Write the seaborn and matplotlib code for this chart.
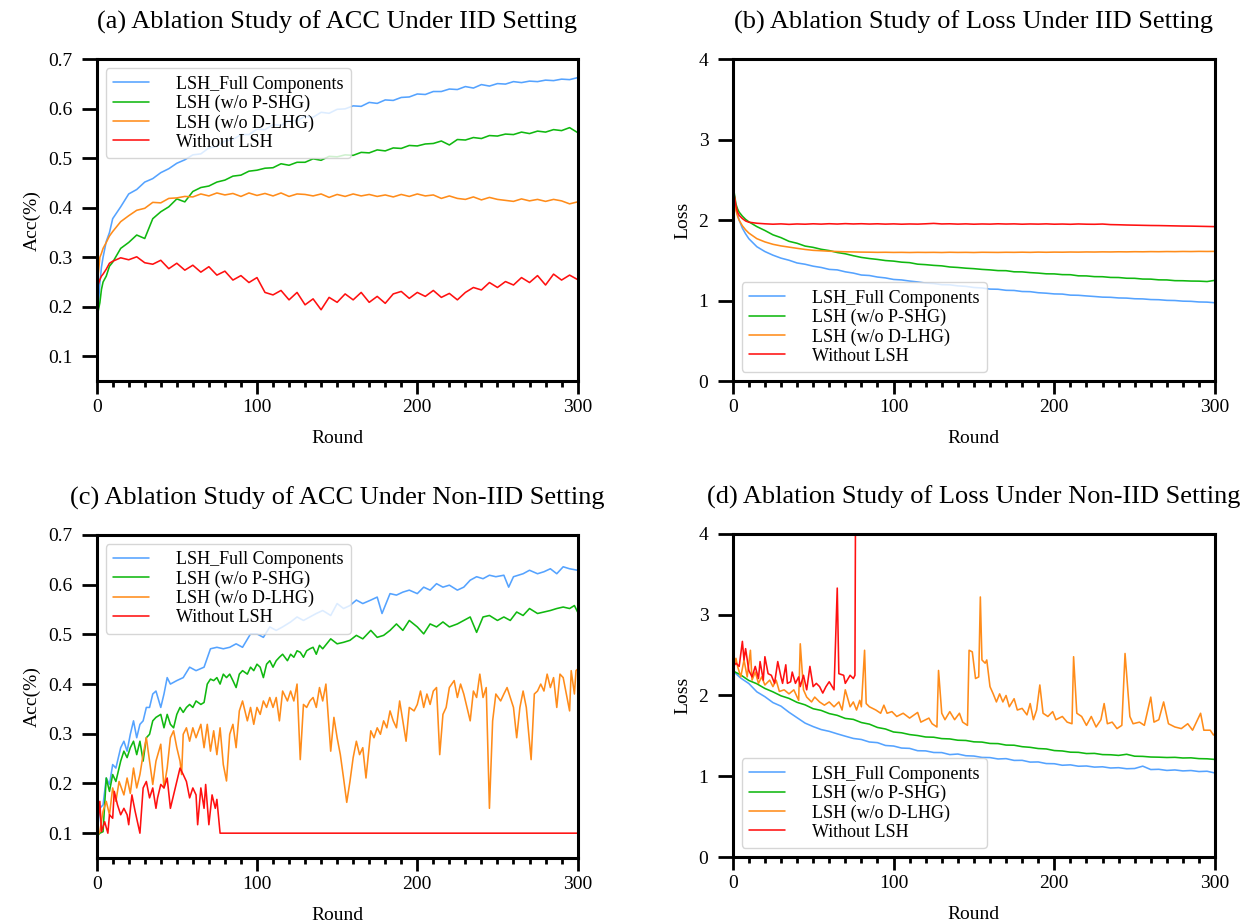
import matplotlib
matplotlib.use("Agg")
import matplotlib.pyplot as plt
from matplotlib.ticker import MultipleLocator
import seaborn as sns

sns.set_theme(style="ticks")
plt.rcParams["font.family"] = ["Liberation Serif", "DejaVu Serif"]
plt.rcParams["text.color"] = "black"
plt.rcParams["axes.labelcolor"] = "black"

labels = ["LSH_Full Components", "LSH (w/o P-SHG)", "LSH (w/o D-LHG)", "Without LSH"]
colors = ["#55a3ff", "#10b810", "#ff8c1a", "#ff1010"]

# ---------------- IID setting: rounds shared by (a) and (b) ----------------
rounds_iid = [0, 1, 2, 3, 4, 6, 8] + list(range(10, 301, 5))

acc_iid_full = [
    0.114, 0.200, 0.248, 0.280, 0.300, 0.332, 0.350, 0.378, 0.402, 0.428,
    0.437, 0.452, 0.459, 0.471, 0.479, 0.490, 0.497, 0.507, 0.509, 0.521,
    0.524, 0.535, 0.538, 0.548, 0.548, 0.559, 0.558, 0.568, 0.567, 0.576,
    0.576, 0.585, 0.583, 0.593, 0.591, 0.599, 0.600, 0.606, 0.605, 0.613,
    0.611, 0.618, 0.617, 0.623, 0.624, 0.630, 0.629, 0.635, 0.635, 0.640,
    0.639, 0.645, 0.642, 0.649, 0.646, 0.651, 0.650, 0.655, 0.653, 0.656,
    0.655, 0.658, 0.657, 0.660, 0.659, 0.663]
acc_iid_pshg = [
    0.170, 0.192, 0.208, 0.235, 0.250, 0.262, 0.282, 0.290, 0.318, 0.330,
    0.345, 0.338, 0.378, 0.392, 0.402, 0.418, 0.412, 0.433, 0.441, 0.444,
    0.452, 0.456, 0.464, 0.466, 0.474, 0.476, 0.480, 0.481, 0.489, 0.486,
    0.492, 0.492, 0.499, 0.496, 0.504, 0.503, 0.507, 0.506, 0.512, 0.511,
    0.517, 0.515, 0.521, 0.520, 0.526, 0.525, 0.529, 0.530, 0.535, 0.527,
    0.538, 0.537, 0.542, 0.540, 0.546, 0.545, 0.549, 0.548, 0.553, 0.550,
    0.555, 0.553, 0.558, 0.556, 0.562, 0.552]
acc_iid_dlhg = [
    0.240, 0.265, 0.300, 0.308, 0.318, 0.330, 0.343, 0.352, 0.372, 0.384,
    0.395, 0.399, 0.411, 0.410, 0.419, 0.420, 0.423, 0.422, 0.428, 0.424,
    0.430, 0.426, 0.429, 0.423, 0.430, 0.425, 0.429, 0.424, 0.430, 0.423,
    0.428, 0.427, 0.424, 0.428, 0.421, 0.427, 0.423, 0.428, 0.424, 0.427,
    0.423, 0.426, 0.422, 0.427, 0.423, 0.428, 0.424, 0.426, 0.419, 0.424,
    0.419, 0.417, 0.422, 0.416, 0.421, 0.417, 0.415, 0.413, 0.418, 0.414,
    0.417, 0.413, 0.417, 0.414, 0.408, 0.412]
acc_iid_none = [
    0.235, 0.245, 0.255, 0.262, 0.266, 0.276, 0.288, 0.292, 0.299, 0.295,
    0.301, 0.289, 0.286, 0.294, 0.277, 0.288, 0.274, 0.284, 0.270, 0.281,
    0.264, 0.272, 0.254, 0.263, 0.249, 0.259, 0.229, 0.224, 0.233, 0.214,
    0.229, 0.204, 0.216, 0.194, 0.219, 0.209, 0.226, 0.214, 0.229, 0.209,
    0.221, 0.207, 0.226, 0.231, 0.217, 0.229, 0.221, 0.233, 0.219, 0.227,
    0.214, 0.229, 0.239, 0.234, 0.249, 0.239, 0.251, 0.244, 0.259, 0.249,
    0.263, 0.244, 0.266, 0.254, 0.264, 0.255]

loss_iid_full = [
    2.445, 2.300, 2.150, 2.070, 2.000, 1.900, 1.830, 1.770, 1.670, 1.610,
    1.565, 1.528, 1.502, 1.468, 1.452, 1.428, 1.412, 1.388, 1.382, 1.358,
    1.342, 1.318, 1.312, 1.293, 1.282, 1.263, 1.257, 1.243, 1.232, 1.218,
    1.212, 1.198, 1.196, 1.183, 1.177, 1.163, 1.157, 1.143, 1.141, 1.128,
    1.126, 1.113, 1.111, 1.098, 1.092, 1.083, 1.081, 1.068, 1.066, 1.058,
    1.051, 1.043, 1.041, 1.033, 1.031, 1.023, 1.021, 1.013, 1.011, 1.003,
    1.001, 0.993, 0.991, 0.983, 0.981, 0.973]
loss_iid_pshg = [
    2.445, 2.330, 2.200, 2.140, 2.100, 2.050, 2.010, 1.980, 1.920, 1.872,
    1.818, 1.783, 1.737, 1.713, 1.678, 1.662, 1.638, 1.622, 1.598, 1.582,
    1.558, 1.537, 1.523, 1.512, 1.498, 1.491, 1.478, 1.472, 1.453, 1.447,
    1.438, 1.432, 1.418, 1.412, 1.403, 1.397, 1.388, 1.382, 1.373, 1.372,
    1.358, 1.357, 1.348, 1.342, 1.333, 1.332, 1.323, 1.322, 1.308, 1.307,
    1.298, 1.297, 1.288, 1.287, 1.278, 1.277, 1.268, 1.267, 1.258, 1.257,
    1.248, 1.247, 1.243, 1.242, 1.237, 1.252]
loss_iid_dlhg = [
    2.445, 2.280, 2.120, 2.050, 2.000, 1.930, 1.880, 1.840, 1.770, 1.730,
    1.700, 1.680, 1.665, 1.650, 1.636, 1.625, 1.620, 1.614, 1.610, 1.607,
    1.605, 1.603, 1.602, 1.600, 1.601, 1.599, 1.600, 1.598, 1.600, 1.599,
    1.600, 1.598, 1.601, 1.599, 1.600, 1.598, 1.601, 1.600, 1.599, 1.601,
    1.600, 1.602, 1.600, 1.603, 1.601, 1.603, 1.602, 1.604, 1.603, 1.605,
    1.604, 1.606, 1.605, 1.607, 1.606, 1.608, 1.607, 1.609, 1.608, 1.610,
    1.609, 1.611, 1.610, 1.612, 1.611, 1.612]
loss_iid_none = [
    2.445, 2.300, 2.180, 2.100, 2.060, 2.020, 1.990, 1.975, 1.962, 1.955,
    1.950, 1.954, 1.948, 1.953, 1.950, 1.955, 1.951, 1.956, 1.952, 1.957,
    1.953, 1.956, 1.952, 1.955, 1.951, 1.954, 1.950, 1.953, 1.951, 1.955,
    1.960, 1.953, 1.955, 1.951, 1.954, 1.950, 1.953, 1.951, 1.955, 1.952,
    1.954, 1.950, 1.953, 1.951, 1.954, 1.950, 1.952, 1.949, 1.953, 1.950,
    1.949, 1.952, 1.945, 1.943, 1.940, 1.938, 1.936, 1.934, 1.933, 1.931,
    1.929, 1.927, 1.926, 1.924, 1.922, 1.920]

# ---------------- Non-IID accuracy (c): (round, acc) pairs ----------------
acc_niid_full = [
    (0, 0.093), (2, 0.150), (4, 0.157), (6, 0.211), (8, 0.198), (10, 0.238), (12, 0.231),
    (15, 0.272), (17, 0.285), (19, 0.265), (21, 0.299), (23, 0.326), (25, 0.292), (27, 0.319),
    (29, 0.326), (31, 0.353), (33, 0.353), (35, 0.380), (37, 0.386), (40, 0.353), (42, 0.380),
    (44, 0.413), (46, 0.400), (50, 0.407), (54, 0.413), (58, 0.434), (62, 0.427), (67, 0.434),
    (71, 0.471), (75, 0.474), (79, 0.471), (83, 0.474), (87, 0.481), (91, 0.474), (96, 0.501),
    (100, 0.501), (104, 0.494), (108, 0.515), (112, 0.508), (116, 0.515), (121, 0.525),
    (125, 0.535), (129, 0.528), (133, 0.535), (137, 0.542), (141, 0.548), (146, 0.538),
    (150, 0.562), (154, 0.552), (158, 0.558), (162, 0.569), (166, 0.562), (171, 0.569),
    (175, 0.575), (178, 0.542), (183, 0.582), (187, 0.579), (191, 0.585), (195, 0.589),
    (200, 0.582), (204, 0.595), (208, 0.589), (212, 0.602), (216, 0.595), (220, 0.599),
    (225, 0.589), (229, 0.595), (233, 0.609), (237, 0.616), (241, 0.612), (245, 0.619),
    (249, 0.616), (254, 0.619), (257, 0.595), (260, 0.616), (266, 0.622), (270, 0.629),
    (275, 0.622), (279, 0.626), (283, 0.632), (287, 0.622), (291, 0.636), (295, 0.632),
    (300, 0.629)]
acc_niid_pshg = [
    (0, 0.093), (2, 0.100), (4, 0.103), (6, 0.211), (8, 0.184), (10, 0.218), (12, 0.204),
    (15, 0.245), (17, 0.265), (19, 0.252), (21, 0.272), (23, 0.285), (25, 0.258), (27, 0.285),
    (29, 0.245), (31, 0.292), (33, 0.299), (35, 0.326), (37, 0.333), (40, 0.339), (42, 0.312),
    (44, 0.339), (46, 0.319), (48, 0.312), (50, 0.339), (52, 0.353), (54, 0.343), (56, 0.353),
    (58, 0.359), (60, 0.353), (62, 0.366), (65, 0.359), (67, 0.363), (69, 0.400), (71, 0.410),
    (73, 0.407), (75, 0.413), (77, 0.400), (79, 0.420), (81, 0.413), (83, 0.420), (85, 0.407),
    (87, 0.393), (89, 0.420), (91, 0.427), (94, 0.420), (96, 0.434), (98, 0.427), (100, 0.440),
    (102, 0.434), (104, 0.413), (106, 0.440), (108, 0.447), (110, 0.434), (112, 0.447),
    (114, 0.454), (116, 0.460), (119, 0.447), (121, 0.460), (123, 0.454), (125, 0.467),
    (127, 0.464), (129, 0.454), (131, 0.467), (133, 0.471), (135, 0.474), (137, 0.460),
    (139, 0.478), (141, 0.471), (146, 0.491), (150, 0.481), (154, 0.484), (158, 0.488),
    (162, 0.498), (166, 0.491), (171, 0.508), (175, 0.494), (179, 0.498), (183, 0.508),
    (187, 0.521), (191, 0.508), (195, 0.528), (200, 0.515), (204, 0.501), (208, 0.521),
    (212, 0.515), (216, 0.525), (220, 0.515), (225, 0.521), (229, 0.528), (233, 0.535),
    (237, 0.504), (241, 0.535), (245, 0.538), (250, 0.528), (254, 0.535), (258, 0.528),
    (262, 0.545), (266, 0.538), (270, 0.552), (275, 0.542), (279, 0.545), (283, 0.548),
    (287, 0.552), (291, 0.555), (295, 0.552), (298, 0.558), (300, 0.545)]
acc_niid_dlhg = [
    (0, 0.093), (2, 0.103), (4, 0.144), (6, 0.164), (8, 0.137), (10, 0.191), (12, 0.164),
    (14, 0.204), (17, 0.177), (19, 0.211), (21, 0.180), (23, 0.231), (25, 0.191), (27, 0.218),
    (29, 0.258), (31, 0.292), (33, 0.245), (35, 0.198), (37, 0.245), (40, 0.279), (42, 0.191),
    (44, 0.231), (46, 0.292), (48, 0.306), (50, 0.272), (52, 0.245), (53, 0.218), (54, 0.299),
    (56, 0.312), (58, 0.285), (60, 0.312), (62, 0.292), (65, 0.319), (67, 0.272), (69, 0.319),
    (71, 0.265), (73, 0.306), (75, 0.258), (77, 0.312), (79, 0.238), (81, 0.205), (83, 0.299),
    (85, 0.319), (87, 0.272), (89, 0.346), (91, 0.366), (94, 0.326), (96, 0.353), (98, 0.319),
    (100, 0.353), (102, 0.339), (104, 0.366), (106, 0.353), (108, 0.373), (110, 0.353),
    (112, 0.373), (114, 0.326), (116, 0.386), (119, 0.366), (121, 0.386), (123, 0.366),
    (125, 0.400), (127, 0.248), (129, 0.359), (131, 0.353), (133, 0.366), (135, 0.373),
    (137, 0.353), (139, 0.393), (141, 0.366), (143, 0.400), (146, 0.265), (148, 0.333),
    (150, 0.292), (152, 0.258), (154, 0.211), (156, 0.162), (158, 0.204), (160, 0.252),
    (162, 0.285), (164, 0.258), (166, 0.272), (168, 0.211), (171, 0.306), (173, 0.292),
    (175, 0.312), (177, 0.299), (179, 0.326), (181, 0.312), (183, 0.346), (185, 0.326),
    (187, 0.312), (189, 0.366), (191, 0.326), (193, 0.285), (195, 0.353), (198, 0.346),
    (200, 0.359), (202, 0.386), (204, 0.353), (206, 0.380), (208, 0.359), (210, 0.386),
    (212, 0.393), (214, 0.258), (216, 0.339), (218, 0.353), (220, 0.393), (223, 0.407),
    (225, 0.373), (227, 0.400), (229, 0.380), (231, 0.353), (233, 0.326), (235, 0.386),
    (237, 0.373), (239, 0.420), (241, 0.373), (243, 0.393), (245, 0.150), (247, 0.326),
    (249, 0.380), (252, 0.366), (254, 0.380), (256, 0.393), (258, 0.373), (260, 0.353),
    (262, 0.292), (264, 0.353), (266, 0.386), (268, 0.353), (271, 0.248), (273, 0.380),
    (275, 0.386), (277, 0.400), (279, 0.386), (281, 0.420), (283, 0.393), (285, 0.413),
    (287, 0.353), (289, 0.420), (291, 0.413), (293, 0.380), (295, 0.346), (296, 0.427),
    (298, 0.380), (299, 0.427), (300, 0.430)]
acc_niid_none = [
    (0, 0.096), (2, 0.164), (3, 0.103), (5, 0.123), (7, 0.100), (8, 0.137), (10, 0.130),
    (11, 0.184), (13, 0.157), (15, 0.137), (17, 0.150), (19, 0.137), (20, 0.117), (22, 0.177),
    (24, 0.144), (27, 0.100), (29, 0.191), (31, 0.204), (33, 0.171), (35, 0.191), (37, 0.150),
    (38, 0.171), (40, 0.198), (42, 0.191), (44, 0.211), (46, 0.150), (48, 0.177), (50, 0.204),
    (52, 0.231), (54, 0.218), (56, 0.204), (58, 0.171), (60, 0.191), (62, 0.177), (63, 0.117),
    (65, 0.191), (67, 0.150), (68, 0.198), (70, 0.117), (72, 0.177), (74, 0.150), (75, 0.168),
    (77, 0.100), (300, 0.100)]

# ---------------- Non-IID loss (d) ----------------
rounds_niid_loss = list(range(0, 301, 5))
loss_niid_full = [
    2.306, 2.215, 2.148, 2.045, 1.985, 1.912, 1.868, 1.792, 1.725, 1.658,
    1.615, 1.578, 1.556, 1.525, 1.496, 1.468, 1.455, 1.424, 1.416, 1.381,
    1.374, 1.349, 1.345, 1.316, 1.314, 1.294, 1.293, 1.268, 1.275, 1.254,
    1.250, 1.233, 1.231, 1.214, 1.218, 1.196, 1.197, 1.175, 1.177, 1.157,
    1.155, 1.136, 1.141, 1.124, 1.127, 1.113, 1.117, 1.102, 1.106, 1.093,
    1.096, 1.125, 1.083, 1.086, 1.072, 1.078, 1.066, 1.071, 1.058, 1.062,
    1.040]
loss_niid_pshg = [
    2.306, 2.254, 2.186, 2.145, 2.087, 2.045, 1.996, 1.964, 1.915, 1.884,
    1.836, 1.815, 1.776, 1.754, 1.716, 1.704, 1.665, 1.645, 1.604, 1.585,
    1.548, 1.538, 1.516, 1.504, 1.486, 1.483, 1.466, 1.462, 1.446, 1.443,
    1.426, 1.423, 1.406, 1.404, 1.386, 1.384, 1.366, 1.358, 1.343, 1.338,
    1.318, 1.313, 1.298, 1.296, 1.281, 1.283, 1.268, 1.266, 1.258, 1.272,
    1.248, 1.246, 1.238, 1.236, 1.232, 1.234, 1.226, 1.228, 1.218, 1.216,
    1.208]
loss_niid_dlhg = [
    (0, 2.31), (2, 2.46), (3, 2.36), (5, 2.23), (7, 2.44), (9, 2.23), (11, 2.56), (12, 2.19),
    (14, 2.29), (16, 2.15), (18, 2.23), (20, 2.13), (23, 2.19), (25, 2.11), (27, 2.19),
    (29, 2.05), (32, 2.07), (35, 2.02), (38, 2.07), (41, 1.94), (42, 2.64), (44, 2.07),
    (46, 1.98), (49, 1.92), (51, 1.98), (54, 1.92), (57, 1.88), (60, 1.92), (63, 1.86),
    (66, 1.92), (68, 1.82), (70, 2.07), (73, 1.86), (75, 1.92), (77, 1.82), (79, 1.94),
    (80, 1.86), (82, 2.56), (83, 1.90), (85, 1.86), (89, 1.82), (92, 1.78), (94, 1.88),
    (96, 1.78), (99, 1.80), (102, 1.74), (106, 1.78), (110, 1.72), (115, 1.79), (117, 1.67),
    (122, 1.72), (124, 1.65), (127, 1.61), (128, 2.31), (130, 1.78), (132, 1.70), (135, 1.80),
    (138, 1.70), (141, 1.78), (143, 1.67), (146, 1.63), (147, 2.56), (149, 2.54), (151, 2.21),
    (153, 2.23), (154, 3.22), (155, 2.44), (157, 2.40), (158, 2.44), (160, 2.11), (162, 2.02),
    (164, 1.92), (166, 2.02), (168, 1.92), (170, 2.00), (172, 1.86), (175, 1.96), (177, 1.82),
    (180, 1.84), (183, 1.76), (185, 1.90), (187, 1.70), (189, 1.82), (191, 2.13), (193, 1.78),
    (196, 1.74), (199, 1.80), (201, 1.70), (205, 1.74), (208, 1.67), (211, 1.65), (212, 2.48),
    (214, 1.78), (217, 1.74), (220, 1.63), (223, 1.74), (226, 1.61), (229, 1.70), (231, 1.90),
    (233, 1.65), (236, 1.67), (239, 1.59), (242, 1.63), (244, 2.52), (247, 1.74), (249, 1.65),
    (253, 1.67), (256, 1.63), (260, 1.98), (262, 1.67), (265, 1.70), (268, 1.92), (271, 1.65),
    (275, 1.61), (279, 1.59), (283, 1.65), (286, 1.57), (291, 1.78), (293, 1.57), (297, 1.57),
    (299, 1.51), (300, 1.53)]
loss_niid_none = [
    (0, 2.35), (2, 2.40), (4, 2.36), (6, 2.67), (7, 2.44), (8, 2.58), (10, 2.31), (12, 2.23),
    (14, 2.36), (16, 2.21), (17, 2.42), (19, 2.19), (20, 2.48), (22, 2.27), (24, 2.25),
    (26, 2.15), (28, 2.42), (30, 2.23), (31, 2.15), (33, 2.38), (34, 2.15), (36, 2.17),
    (37, 2.29), (39, 2.15), (41, 2.23), (42, 2.11), (44, 2.25), (46, 2.07), (48, 2.36),
    (50, 2.11), (52, 2.15), (54, 2.11), (56, 2.03), (58, 2.11), (60, 2.17), (63, 2.07),
    (65, 3.33), (66, 2.27), (69, 2.25), (70, 2.15), (73, 2.25), (75, 2.21), (76, 2.25),
    (77, 8.00)]


def unzip(pairs):
    return [p[0] for p in pairs], [p[1] for p in pairs]


panels = [
    dict(rect=[0.0775, 0.5872, 0.3857, 0.3485],
         title="(a) Ablation Study of ACC Under IID Setting", ylabel="Acc(%)",
         series=[(rounds_iid, acc_iid_full), (rounds_iid, acc_iid_pshg),
                 (rounds_iid, acc_iid_dlhg), (rounds_iid, acc_iid_none)],
         ylim=(0.05, 0.7), yticks=[0.1, 0.2, 0.3, 0.4, 0.5, 0.6, 0.7], loc="upper left"),
    dict(rect=[0.5876, 0.5872, 0.3868, 0.3485],
         title="(b) Ablation Study of Loss Under IID Setting", ylabel="Loss",
         series=[(rounds_iid, loss_iid_full), (rounds_iid, loss_iid_pshg),
                 (rounds_iid, loss_iid_dlhg), (rounds_iid, loss_iid_none)],
         ylim=(0, 4), yticks=[0, 1, 2, 3, 4], loc="lower left"),
    dict(rect=[0.0775, 0.0704, 0.3857, 0.3500],
         title="(c) Ablation Study of ACC Under Non-IID Setting", ylabel="Acc(%)",
         series=[unzip(acc_niid_full), unzip(acc_niid_pshg),
                 unzip(acc_niid_dlhg), unzip(acc_niid_none)],
         ylim=(0.05, 0.7), yticks=[0.1, 0.2, 0.3, 0.4, 0.5, 0.6, 0.7], loc="upper left"),
    dict(rect=[0.5876, 0.0715, 0.3868, 0.3500],
         title="(d) Ablation Study of Loss Under Non-IID Setting", ylabel="Loss",
         series=[(rounds_niid_loss, loss_niid_full), (rounds_niid_loss, loss_niid_pshg),
                 unzip(loss_niid_dlhg), unzip(loss_niid_none)],
         ylim=(0, 4), yticks=[0, 1, 2, 3, 4], loc="lower left"),
]

fig = plt.figure(figsize=(12.47, 9.23), dpi=100)

for p in panels:
    ax = fig.add_axes(p["rect"])
    for (x, y), lab, col in zip(p["series"], labels, colors):
        sns.lineplot(x=x, y=y, color=col, label=lab, linewidth=1.15, ax=ax)
    ax.set_xlim(0, 300)
    ax.set_ylim(*p["ylim"])
    ax.set_xticks([0, 100, 200, 300])
    ax.set_yticks(p["yticks"])
    ax.xaxis.set_minor_locator(MultipleLocator(10))
    ax.tick_params(which="major", direction="out", width=2,
                   labelsize=14, color="black", labelcolor="black")
    ax.tick_params(axis="x", which="major", length=9, pad=4)
    ax.tick_params(axis="y", which="major", length=10.5, pad=7)
    ax.tick_params(which="minor", direction="out", length=4.5, width=2, color="black")
    for s in ax.spines.values():
        s.set_linewidth(2.2)
        s.set_color("black")
    ax.set_xlabel("Round", fontsize=14, labelpad=10)
    ax.set_ylabel(p["ylabel"], fontsize=14, labelpad=5)
    ax.set_title(p["title"], fontsize=19, pad=22)
    ax.legend(loc=p["loc"], fontsize=13, handlelength=2.0, handletextpad=1.5,
              labelspacing=0.12, frameon=True, fancybox=True, edgecolor="#cccccc",
              framealpha=0.8, borderpad=0.4)

fig.savefig("out.png", dpi=100)
